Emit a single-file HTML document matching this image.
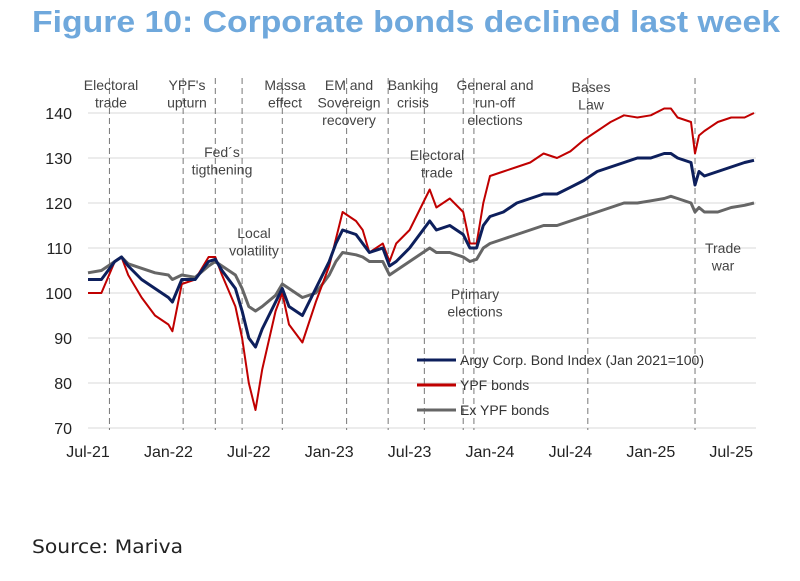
<!DOCTYPE html>
<html><head><meta charset="utf-8"><style>
body{margin:0;background:#fff;width:800px;height:576px;overflow:hidden;font-family:"Liberation Sans",sans-serif}
</style></head><body>
<svg width="800" height="576" xmlns="http://www.w3.org/2000/svg" font-family="Liberation Sans, sans-serif">
<text x="32" y="32" font-size="31" font-weight="bold" fill="#6fa8dc" textLength="748" lengthAdjust="spacingAndGlyphs">Figure 10: Corporate bonds declined last week</text>
<text x="32" y="553" font-size="19" fill="#222" font-family="DejaVu Sans, sans-serif" textLength="151" lengthAdjust="spacingAndGlyphs">Source: Mariva</text>
<g id="grid"></g><g id="events"></g><g id="series"></g><g id="axes"></g><g id="ann"></g><g id="legend"></g>
</svg>
<script>
const months=[0,1,2,2.5,3,4,5,6,6.3,7,8,9,9.5,10,11,11.5,12,12.5,13,14,14.5,15,16,17,18,18.5,19,20,20.5,21,22,22.5,23,24,25,25.5,26,27,28,28.5,29,29.5,30,31,32,33,34,35,36,37,38,39,40,41,42,43,43.5,44,45,45.3,45.6,46,47,48,49,49.7];
const indexVals=[103,103,107,108,106,103,101,99,98,103,103,107,107.5,105,101,96,90,88,92,98,101,97,95,101,107,111,114,113,111,109,110,106,107,110,114,116,114,115,113,110,110,115,117,118,120,121,122,122,123.5,125,127,128,129,130,130,131,131,130,129,124,127,126,127,128,129,129.5];
const ypfVals=[100,100,107,108,104,99,95,93,91.5,102,103,108,108,104,97,90,80,74,83,96,100,93,89,98,106,112,118,116,114,109,111,107,111,114,120,123,119,121,118,111,111,120,126,127,128,129,131,130,131.5,134,136,138,139.5,139,139.5,141,141,139,138,131,135,136,138,139,139,140];
const exVals=[104.5,105,107,108,106.5,105.5,104.5,104,103,104,103.5,106,107,106,104,101,97,96,97,99.5,102,101,99,100,104,107,109,108.5,108,107,107,104,105,107,109,110,109,109,108,107,107.5,110,111,112,113,114,115,115,116,117,118,119,120,120,120.5,121,121.5,121,120,118,119,118,118,119,119.5,120];
const yTicks=[70,80,90,100,110,120,130,140];
const xTickLabels=["Jul-21","Jan-22","Jul-22","Jan-23","Jul-23","Jan-24","Jul-24","Jan-25","Jul-25"];
const eventMonths=[1.6,7.1,9.5,11.5,14.5,19.3,22.4,25.1,28,28.8,37.3,45.3];
const NS="http://www.w3.org/2000/svg";
const X=m=>88+m*13.4, Y=v=>293-(v-100)*4.5;
function mk(tag,attrs,parent,txt){const e=document.createElementNS(NS,tag);for(const k in attrs)e.setAttribute(k,attrs[k]);if(txt!==undefined)e.textContent=txt;document.getElementById(parent).appendChild(e);return e;}
yTicks.forEach(v=>{
 const l=mk('line',{x1:88,x2:756,y1:Y(v),y2:Y(v),stroke:'#d9d9d9','stroke-width':1},'grid');
 
 
 const t=mk('text',{x:72,y:Y(v)+6,'font-size':16,'text-anchor':'end',fill:'#222'},'axes',String(v));
 
 
});
xTickLabels.forEach((s,i)=>{
 const t=mk('text',{x:X(i*6),y:457,'font-size':16,'text-anchor':'middle',fill:'#222'},'axes',s);
 
 
});
eventMonths.forEach((m,i)=>{
 const l=mk('line',{x1:X(m),x2:X(m),y1:78,y2:430,stroke:'#777','stroke-width':1,'stroke-dasharray':'6,4'},'events');
 
 
});
function series(vals,color,w,name){
 const d=vals.map((v,i)=>(i?'L':'M')+X(months[i]).toFixed(1)+','+Y(v).toFixed(1)).join('');
 const p=mk('path',{d:d,fill:'none',stroke:color,'stroke-width':w,'stroke-linejoin':'round'},'series');
 
 
}
series(exVals,'#666',3,'ex-ypf-line');
series(ypfVals,'#c00000',2,'ypf-line');
series(indexVals,'#0d1f5c',3,'index-line');
const ann=[["Electoral|trade",111,85],["YPF's|upturn",187,85],["Fed´s|tigthening",222,152],["Local|volatility",254,233],["Massa|effect",285,85],["EM and|Sovereign|recovery",349,85],["Banking|crisis",413,85],["General and|run-off|elections",495,85],["Electoral|trade",437,155],["Primary|elections",475,294],["Bases|Law",591,87],["Trade|war",723,248]];
ann.forEach((a,i)=>{a[0].split('|').forEach((ln,j)=>{
 const t=mk('text',{x:a[1],y:a[2]+5+j*17.5,'font-size':14,'text-anchor':'middle',fill:'#444'},'ann',ln);
 
 
});});
[["Argy Corp. Bond Index (Jan 2021=100)","#0d1f5c",360],["YPF bonds","#c00000",385],["Ex YPF bonds","#666",410]].forEach((e,i)=>{
 const l=mk('line',{x1:417,x2:456,y1:e[2],y2:e[2],stroke:e[1],'stroke-width':3},'legend');
 
 
 const t=mk('text',{x:460,y:e[2]+5,'font-size':14,fill:'#333'},'legend',e[0]);
 
 
});
</script>
</body></html>
